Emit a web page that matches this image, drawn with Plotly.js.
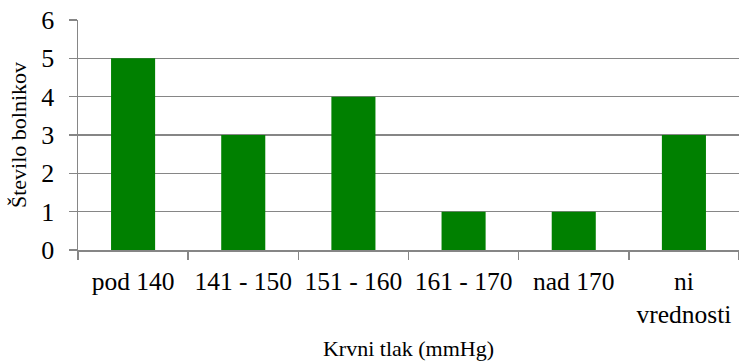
<!DOCTYPE html>
<html>
<head>
<meta charset="utf-8">
<script src="https://cdn.plot.ly/plotly-3.0.1.min.js"></script>
<style>
  html, body { margin: 0; padding: 0; background: #fff; }
  #chart { width: 739px; height: 361px; }
</style>
</head>
<body>
<div id="chart"></div>
<script>
// Blood pressure groups and number of patients in each
const categories = ["pod 140", "141 - 150", "151 - 160", "161 - 170", "nad 170", "ni<br>vrednosti"];
const patients = [5, 3, 4, 1, 1, 3];
const yTicks = [0, 1, 2, 3, 4, 5, 6];

const serif = "Liberation Serif, Times New Roman, serif";
const axisGrey = "#868686";

const trace = {
  type: "bar",
  x: categories,
  y: patients,
  width: 0.4,
  marker: { color: "#008000" },
  hoverinfo: "x+y"
};

const layout = {
  width: 739,
  height: 361,
  margin: { l: 78, r: 0, t: 20, b: 111 },
  paper_bgcolor: "#ffffff",
  plot_bgcolor: "#ffffff",
  showlegend: false,
  font: { family: serif, size: 24, color: "#000000" },
  xaxis: {
    type: "category",
    tickson: "boundaries",
    ticks: "outside",
    ticklen: 8,
    tickwidth: 1.5,
    tickcolor: axisGrey,
    ticklabelstandoff: 8,
    showline: true,
    linecolor: axisGrey,
    linewidth: 1.5,
    showgrid: false,
    automargin: false,
    tickfont: { family: serif, size: 25.5, color: "#000000" },
    title: { text: "Krvni tlak (mmHg)", font: { family: serif, size: 22, color: "#000000" }, standoff: 16 },
    fixedrange: true
  },
  yaxis: {
    range: [0, 6],
    tickvals: yTicks,
    ticks: "outside",
    ticklen: 8,
    tickwidth: 1.5,
    tickcolor: axisGrey,
    ticklabelstandoff: 9,
    showline: true,
    linecolor: axisGrey,
    linewidth: 1.5,
    showgrid: true,
    gridcolor: axisGrey,
    gridwidth: 1.5,
    zeroline: false,
    automargin: false,
    tickfont: { family: serif, size: 26, color: "#000000" },
    title: { text: "Število bolnikov", font: { family: serif, size: 22, color: "#000000" }, standoff: 8 },
    fixedrange: true
  }
};

Plotly.newPlot("chart", [trace], layout, { displayModeBar: false, staticPlot: true });
</script>
</body>
</html>
